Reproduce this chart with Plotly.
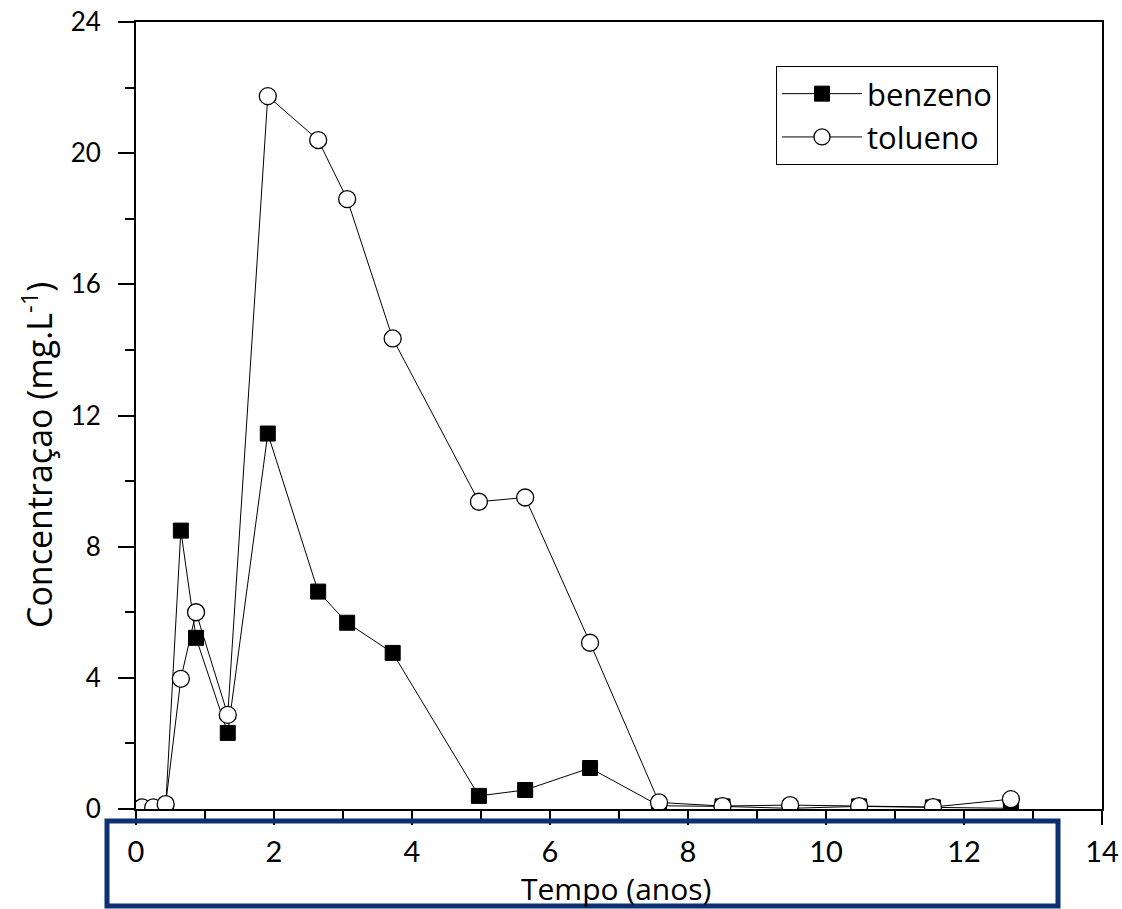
import plotly.graph_objects as go

# Data
tempo_benzeno = [0.09, 0.25, 0.43, 0.65, 0.87, 1.33, 1.91, 2.64, 3.06, 3.72, 4.97, 5.64, 6.58, 7.58, 8.50, 9.48, 10.48, 11.55, 12.68]
benzeno = [0.03, 0.03, 0.05, 8.49, 5.22, 2.32, 11.45, 6.63, 5.68, 4.76, 0.40, 0.58, 1.25, 0.10, 0.08, 0.02, 0.08, 0.05, 0.02]

tempo_tolueno = [0.09, 0.25, 0.43, 0.65, 0.87, 1.33, 1.91, 2.64, 3.06, 3.72, 4.97, 5.64, 6.58, 7.58, 8.50, 9.48, 10.48, 11.55, 12.68]
tolueno = [0.05, 0.05, 0.15, 3.97, 6.00, 2.87, 21.74, 20.40, 18.60, 14.35, 9.37, 9.50, 5.07, 0.20, 0.09, 0.12, 0.09, 0.06, 0.30]

x_ticks = [0, 2, 4, 6, 8, 10, 12, 14]
y_ticks = [0, 4, 8, 12, 16, 20, 24]

TICK_FONT = "Lato"
TEXT_FONT = "Open Sans"

fig = go.Figure()
fig.add_trace(go.Scatter(
    x=tempo_benzeno, y=benzeno, name="benzeno", mode="lines+markers",
    line=dict(color="black", width=1),
    marker=dict(symbol="square", size=15, color="black", line=dict(color="black", width=1)),
))
fig.add_trace(go.Scatter(
    x=tempo_tolueno, y=tolueno, name="tolueno", mode="lines+markers",
    line=dict(color="black", width=1),
    marker=dict(symbol="circle", size=17, color="white", line=dict(color="black", width=1.3)),
))

fig.update_layout(
    width=1122, height=909,
    margin=dict(l=136, r=20, t=22, b=100, autoexpand=False),
    paper_bgcolor="white", plot_bgcolor="white",
    font=dict(family=TEXT_FONT, color="black"),
    showlegend=True,
    legend=dict(
        x=(776 - 136) / 966, y=(809 - 66) / 787, xanchor="left", yanchor="top",
        bordercolor="black", borderwidth=1, bgcolor="white",
        font=dict(family=TEXT_FONT, size=31, color="black"),
        tracegroupgap=0, itemwidth=80,
    ),
)

fig.update_xaxes(
    range=[0, 14], tickvals=x_ticks, ticktext=[str(v) for v in x_ticks],
    showline=True, linecolor="black", linewidth=2, mirror=True,
    ticks="outside", ticklen=14, tickwidth=2, tickcolor="black",
    minor=dict(ticks="outside", dtick=1, ticklen=9, tickwidth=2, tickcolor="black"),
    showgrid=False, zeroline=False, automargin=False,
    tickfont=dict(family=TICK_FONT, size=29, color="black"),
    ticklabelstandoff=2,
)
fig.update_yaxes(
    range=[0, 24], tickvals=y_ticks, ticktext=[str(v) for v in y_ticks],
    showline=True, linecolor="black", linewidth=2, mirror=True,
    ticks="outside", ticklen=16, tickwidth=2, tickcolor="black",
    minor=dict(ticks="outside", dtick=2, ticklen=9, tickwidth=2, tickcolor="black"),
    showgrid=False, zeroline=False, automargin=False,
    tickfont=dict(family=TICK_FONT, size=26, color="black"),
    ticklabelstandoff=12,
)

# axis titles as annotations
fig.add_annotation(
    text="Tempo (anos)", xref="paper", yref="paper",
    x=(616 - 136) / 966, y=(809 - 888) / 787, xanchor="center", yanchor="middle",
    showarrow=False, font=dict(family=TEXT_FONT, size=30, color="black"),
)
fig.add_annotation(
    text="Concentraçao (mg.L<sup>-1</sup>)", xref="paper", yref="paper",
    x=(37 - 136) / 966, y=(809 - 455) / 787, xanchor="center", yanchor="middle",
    textangle=-90, showarrow=False, font=dict(family=TEXT_FONT, size=34, color="black"),
)

# dark blue highlight box around the x-axis labels
fig.add_shape(
    type="rect", xref="paper", yref="paper",
    x0=(107 - 136) / 966, x1=(1058 - 136) / 966,
    y0=(809 - 906) / 787, y1=(809 - 821) / 787,
    line=dict(color="#0c3170", width=5), fillcolor="rgba(0,0,0,0)", layer="above",
)

fig.write_html("out.html", config={"displayModeBar": False},
               post_script="document.body.style.margin='0';")
